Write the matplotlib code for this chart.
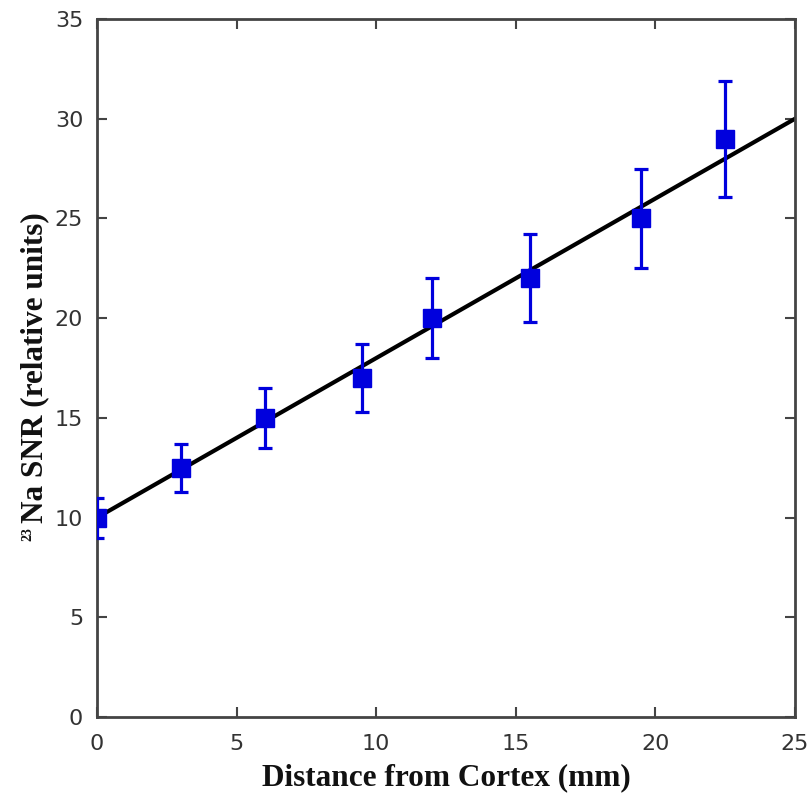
import matplotlib
matplotlib.use("Agg")
import matplotlib.pyplot as plt
import numpy as np

# Data
distance_mm = [0, 3, 6, 9.5, 12, 15.5, 19.5, 22.5]
snr = [10, 12.5, 15, 17, 20, 22, 25, 29]
snr_err = [1.0, 1.2, 1.5, 1.7, 2.0, 2.2, 2.5, 2.9]
fit_x = [0, 25]
fit_y = [10, 30]
xticks = [0, 5, 10, 15, 20, 25]
yticks = [0, 5, 10, 15, 20, 25, 30, 35]

fig = plt.figure(figsize=(8.09, 7.93), dpi=100)
ax = fig.add_axes([0.12, 0.0958, 0.8627, 0.8802])

ax.plot(fit_x, fit_y, color='black', lw=3, zorder=2)
ax.errorbar(distance_mm, snr, yerr=snr_err, fmt='s', color='#0000dd',
            ms=13, elinewidth=2.3, capsize=5, capthick=2.3, zorder=3)

ax.set_xlim(0, 25)
ax.set_ylim(0, 35)
ax.set_xticks(xticks)
ax.set_yticks(yticks)
ax.tick_params(direction='in', top=True, right=True, length=7, width=1.5,
               color='#444444', labelsize=16, labelcolor='#333333')
ax.tick_params(axis='x', pad=12)
ax.tick_params(axis='y', pad=10)
for s in ax.spines.values():
    s.set_linewidth(2)
    s.set_color('#444444')

ax.set_xlabel('Distance from Cortex (mm)', family='Liberation Serif',
              fontweight='bold', fontsize=22.5, labelpad=7, color='#111111')
ax.set_ylabel('Na SNR (relative units)', family='Liberation Serif',
              fontweight='bold', fontsize=22.5, labelpad=4, color='#111111')

fig.canvas.draw()
bb = ax.yaxis.label.get_window_extent()
inv = fig.transFigure.inverted()
px, py = inv.transform((bb.x0 + 1, bb.y0 - 4))
fig.text(px, py, '23', family='Liberation Serif', fontweight='bold',
         fontsize=10, rotation=90, ha='left', va='top', color='#111111')

fig.savefig('out.png', dpi=100)
